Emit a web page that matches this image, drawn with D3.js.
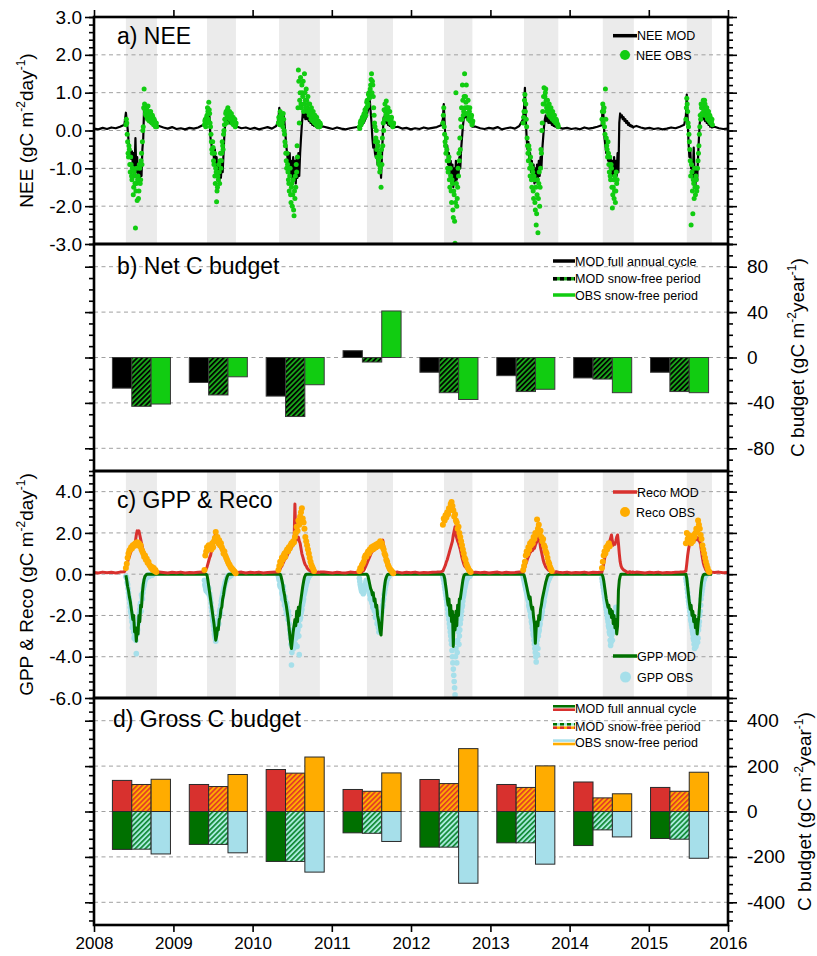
<!DOCTYPE html>
<html>
<head>
<meta charset="utf-8">
<script src="https://cdn.jsdelivr.net/npm/d3@7/dist/d3.min.js"></script>
<style>
  html, body { margin: 0; padding: 0; background: #fff; }
  svg text { font-family: "Liberation Sans", Arial, Helvetica, sans-serif; }
</style>
</head>
<body>
<svg id="chart" width="817" height="956"></svg>
<script>
// ---------------- data ----------------
const years = [2008, 2009, 2010, 2011, 2012, 2013, 2014, 2015];

// snow-free period (grey band), day of year
const bandStart = [148, 156, 123, 163, 153, 156, 154, 176];
const bandEnd   = [291, 289, 311, 283, 284, 314, 297, 292];

// growing-season daily series, sampled every seasonStep days from seasonStart
// (the *Mid arrays hold the days half-way between those samples)
const seasonStart = [148, 144, 120, 128, 148, 152, 150, 172];
const seasonStep = 4;

const neeMod = [
  [0.47,0.25,0.05,-0.25,-0.45,-0.6,-0.75,-0.55,-0.9,-0.6,-1.0,-0.2,-1.1,-0.7,-1.35,-0.9,-1.3,-0.8,-1.2,-0.5,-0.2,0.63,0.35,0.45,0.3,0.4,0.25,0.35,0.2,0.3,0.2,0.25,0.15,0.2,0.1,0.12],
  [0.15,0.25,0.35,0.45,0.55,0.6,0.3,-0.2,-0.35,-0.55,-0.5,-0.75,-0.5,-1.0,-0.7,-1.2,-0.9,-1.35,-1.0,-1.25,-0.8,-1.1,-0.6,-0.1,0.2,0.35,0.25,0.3,0.2,0.28,0.18,0.25,0.15,0.2,0.12,0.15,0.1],
  [0.3,0.6,0.45,0.3,0.45,0.25,0.4,0.2,-0.1,-0.4,-0.6,-0.85,-1.0,-0.6,-1.2,-0.8,-1.35,-0.7,-1.3,-0.8,-1.4,-0.7,-1.25,-0.6,-1.2,-0.6,-0.2,0.15,0.45,0.35,0.5,0.3,0.6,0.3,0.35,0.25,0.3,0.2,0.25,0.15,0.2,0.12,0.18,0.1,0.15,0.08,0.12,0.06,0.1],
  [0.08,0.12,0.1,0.15,0.18,0.2,0.25,0.3,0.35,0.45,0.55,0.65,0.8,0.5,0.2,-0.2,-0.45,-0.3,-0.6,-0.7,-0.5,-0.9,-0.75,-1.0,-0.85,-1.25,-0.7,-0.1,0.35,0.25,0.35,0.2,0.3,0.15,0.25,0.12,0.2,0.1,0.12,0.08],
  [0.3,0.7,0.2,-0.3,-0.6,-0.4,-0.9,-0.6,-1.2,-0.8,-1.4,-0.9,-1.5,-1.0,-1.4,-0.8,-1.3,-0.9,-1.2,-0.7,-1.0,-0.5,-0.2,0.1,0.3,0.45,0.35,0.45,0.3,0.4,0.25,0.3,0.2,0.15,0.1],
  [0.3,0.6,1.13,0.3,-0.2,-0.5,-0.3,-0.8,-0.6,-1.1,-0.8,-1.3,-0.9,-1.4,-1.0,-1.35,-0.9,-1.3,-0.8,-1.2,-0.7,-1.0,-0.5,-0.2,0.1,0.3,0.4,0.25,0.35,0.2,0.3,0.2,0.25,0.15,0.2,0.12,0.15,0.1,0.12,0.08,0.1],
  [0.25,0.7,0.3,-0.2,-0.4,-0.6,-0.45,-0.8,-0.6,-1.0,-0.7,-1.15,-0.8,-1.2,-0.7,-1.25,-0.8,-1.2,-0.6,-1.1,0.2,0.45,0.35,0.4,0.3,0.35,0.25,0.3,0.2,0.25,0.15,0.2,0.12,0.15,0.1,0.12,0.08,0.1],
  [0.4,0.95,0.3,-0.3,-0.7,-0.5,-1.0,-0.8,-1.3,-0.45,-1.2,-1.45,-1.0,-1.3,-0.7,-0.2,0.2,0.35,0.3,0.4,0.3,0.35,0.25,0.3,0.2,0.25,0.15,0.2,0.1,0.12,0.08]
];

const neeObs = [
  [0.15,0.2,-0.3,-0.7,-0.5,-1.1,-0.9,-1.3,-1.0,-1.5,-1.2,-2.58,-1.4,-1.85,-1.2,-1.6,-1.0,-1.3,-0.6,-0.3,0.1,1.1,0.55,0.4,0.6,0.3,0.5,0.25,0.45,0.3,0.2,0.35,0.15,0.25,0.1,0.2],
  [0.15,0.3,0.2,0.4,0.5,0.75,0.45,0.1,-0.3,-0.6,-0.45,-0.9,-1.2,-1.0,-1.88,-1.5,-1.3,-1.1,-0.8,-1.0,-0.6,-0.4,-0.1,0.15,0.3,0.5,0.35,0.6,0.4,0.5,0.3,0.45,0.25,0.35,0.2,0.3,0.15],
  [0.2,0.3,0.5,0.2,0.4,0.1,0.3,-0.1,-0.4,-0.8,-0.6,-1.1,-1.4,-1.2,-1.7,-1.5,-2.0,-1.3,-2.25,-1.8,-1.5,-1.1,-0.7,1.6,0.2,1.0,0.7,1.2,0.9,0.5,1.5,0.8,1.1,0.6,0.9,0.5,0.7,0.4,0.6,0.3,0.5,0.25,0.4,0.2,0.35,0.15,0.25,0.1,0.2],
  [0.1,0.2,0.15,0.3,0.25,0.4,0.35,0.5,0.6,0.8,0.7,1.0,0.9,1.2,1.5,1.3,0.9,0.4,0.1,-0.2,-0.5,-0.3,-0.8,-0.6,-1.0,-1.5,-0.9,-0.4,0.0,0.3,0.5,0.78,0.4,0.6,0.3,0.5,0.25,0.35,0.2,0.15],
  [0.2,0.6,-0.1,-0.4,-0.2,-0.8,-1.1,-0.7,-1.5,-1.2,-1.9,-1.4,-2.3,-1.7,-2.98,1.0,-2.0,-1.5,-1.2,-0.8,-0.5,0.1,0.3,0.8,0.5,1.5,0.9,1.2,0.6,0.8,0.4,0.6,0.3,0.4,0.2],
  [0.2,0.5,0.95,0.7,0.1,-0.4,-0.8,-0.5,-1.2,-0.9,-1.5,-1.1,-1.8,-1.3,-2.1,-2.5,-1.7,-2.7,-1.4,-2.0,-1.0,-0.6,0.2,0.7,1.13,0.9,1.1,0.6,0.8,0.5,0.7,0.4,0.6,0.35,0.5,0.3,0.4,0.25,0.3,0.2,0.15],
  [0.3,0.7,0.5,0.1,1.1,-0.2,-0.5,-0.3,-0.9,-0.7,-1.3,-1.0,-2.05,-1.5,-1.8,-1.2,-1.6,-1.4],
  [0.3,0.85,0.5,0.1,-0.3,-0.8,-2.5,-1.1,-2.2,-1.4,-1.0,-1.7,-1.3,-1.5,-0.8,-0.4,0.1,0.3,0.6,0.4,0.8,0.5,0.7,0.4,0.6,0.3,0.5,0.25,0.35,0.2,0.3]
];
const neeObsMid = [
  [0.3,-0.1,-0.6,-0.4,-0.9,-0.7,-1.2,-1.0,-1.7,-1.1,-1.4,-1.6,-1.0,-1.3,-1.8,-0.9,-1.4,-0.8,-0.9,0.0,0.6,0.7,0.45,0.5,0.35,0.65,0.4,0.3,0.5,0.25,0.4,0.2,0.3,0.15,0.2,0.1],
  [0.25,0.1,0.35,0.6,0.3,0.55,0.2,-0.1,-0.5,-0.3,-0.8,-0.6,-1.4,-1.1,-1.6,-1.2,-0.9,-1.4,-0.6,-0.8,-0.3,-0.5,0.0,0.3,0.45,0.2,0.55,0.35,0.45,0.3,0.4,0.2,0.3,0.15,0.25,0.1,0.2],
  [0.35,0.15,0.4,0.3,0.2,0.45,0.0,-0.3,-0.6,-1.0,-0.9,-1.3,-1.6,-1.0,-1.9,-1.4,-1.7,-2.1,-1.6,-1.2,-0.9,-0.4,0.6,1.3,0.8,1.4,0.6,1.0,1.3,0.7,1.0,0.6,0.8,0.5,0.7,0.4,0.55,0.3,0.45,0.25,0.4,0.2,0.3,0.15,0.25,0.1,0.2,0.1,0.15],
  [0.05,0.25,0.2,0.35,0.3,0.45,0.55,0.4,0.75,0.65,0.95,0.85,1.1,1.35,1.0,1.2,0.6,0.2,-0.3,0.0,-0.7,-0.4,-0.9,-1.1,-0.7,-0.5,-0.2,0.2,0.55,0.7,0.4,0.6,0.3,0.5,0.35,0.2,0.3,0.15,0.1,0.2],
  [0.4,0.1,-0.3,-0.6,-0.5,-1.0,-0.8,-1.3,-1.0,-1.6,-1.3,-2.1,-1.6,-2.4,-1.9,-1.4,-1.8,-1.0,-0.6,-0.2,0.3,0.6,1.2,0.4,0.9,0.6,0.75,0.45,0.6,0.3,0.5,0.25,0.35,0.15,0.25],
  [0.35,0.8,0.5,0.3,-0.2,-0.6,-0.4,-1.0,-0.7,-1.3,-1.0,-1.6,-1.2,-1.9,-1.5,-2.2,-1.3,-1.8,-1.1,-1.5,-0.5,0.0,0.5,0.9,0.7,1.0,0.8,0.5,0.65,0.4,0.55,0.35,0.5,0.3,0.4,0.25,0.3,0.2,0.25,0.15,0.1],
  [0.5,0.2,0.6,-0.1,0.3,-0.4,-0.7,-0.6,-1.1,-1.2,-0.9,-1.5,-1.7,-1.3,-1.6,-1.9,-1.1,-1.3],
  [0.6,0.7,0.2,-0.1,-0.5,-1.2,-0.9,-1.6,-1.3,-1.8,-1.5,-1.2,-1.6,-1.0,-0.6,-0.1,0.4,0.7,0.45,0.65,0.55,0.8,0.4,0.6,0.35,0.5,0.3,0.4,0.2,0.25,0.15]
];

const recoMod = [
  [0.25,0.4,0.6,0.75,0.85,1.0,1.1,1.2,1.3,1.35,1.45,1.6,1.9,2.1,2.0,2.1,1.9,1.7,1.5,1.3,1.15,1.05,0.9,0.8,0.7,0.65,0.55,0.5,0.45,0.35,0.3,0.25,0.2,0.15,0.12,0.1],
  [0.1,0.15,0.25,0.35,0.5,0.65,0.8,0.9,1.1,1.25,1.4,1.55,1.8,2.05,1.9,1.75,1.65,1.5,1.4,1.3,1.2,1.1,1.0,0.95,0.9,0.8,0.7,0.6,0.55,0.45,0.4,0.35,0.25,0.2,0.15,0.1,0.08],
  [0.1,0.2,0.25,0.35,0.4,0.5,0.6,0.7,0.75,0.85,0.9,1.0,1.05,1.15,1.2,1.3,1.35,1.45,1.5,3.4,1.6,1.75,1.7,1.8,1.6,1.5,1.25,1.0,0.85,0.7,0.55,0.45,0.4,0.3,0.25,0.2,0.18,0.15,0.12,0.1,0.1,0.08,0.1,0.08,0.1,0.08,0.1,0.08,0.1],
  [0.08,0.1,0.1,0.12,0.15,0.18,0.25,0.35,0.45,0.55,0.65,0.75,0.85,0.95,1.05,1.1,1.2,1.15,1.25,1.3,1.25,1.35,1.4,1.35,1.5,1.45,1.6,1.65,1.4,1.1,0.8,0.6,0.45,0.35,0.25,0.2,0.15,0.12,0.1,0.08],
  [0.15,0.25,0.35,0.45,0.6,0.7,0.85,1.0,1.15,1.3,1.45,1.6,1.9,2.1,2.3,1.9,1.75,1.6,1.5,1.35,1.2,1.0,0.8,0.65,0.5,0.4,0.35,0.3,0.25,0.2,0.18,0.15,0.12,0.1,0.08],
  [0.1,0.2,0.35,0.5,0.6,0.75,0.85,0.95,1.05,1.1,1.2,1.15,1.3,1.25,1.4,1.5,1.6,1.75,1.9,1.6,1.3,1.1,0.9,0.7,0.55,0.45,0.35,0.3,0.25,0.2,0.18,0.15,0.12,0.1,0.12,0.1,0.08,0.1,0.12,0.1,0.1],
  [0.1,0.3,0.5,0.75,0.95,1.1,1.25,1.35,1.5,1.6,1.75,1.9,1.6,1.4,1.5,1.45,1.6,1.8,1.9,1.5,1.0,0.6,0.4,0.3,0.25,0.2,0.18,0.15,0.12,0.1,0.08,0.1,0.12,0.1,0.08,0.1,0.1,0.08],
  [0.15,0.5,0.9,1.2,1.4,1.5,1.6,1.55,1.7,1.6,1.75,1.65,1.8,1.7,1.75,1.6,1.6,1.4,1.1,0.8,0.55,0.4,0.3,0.2,0.15,0.1,0.12,0.1,0.08,0.1,0.1]
];

const recoObs = [
  [0.3,0.5,0.8,1.0,1.15,1.2,1.3,1.25,1.4,1.35,1.45,1.5,1.4,1.55,1.45,1.5,1.35,1.4,1.2,1.1,1.0,0.85,0.9,0.7,0.75,0.55,0.6,0.45,0.4,0.3,0.35,0.2,0.3,0.15,0.2,0.1],
  [0.2,0.9,1.1,1.3,1.2,1.4,1.25,1.35,1.2,1.5,1.3,1.6,1.75,2.05,1.6,1.8,1.5,1.65,1.4,1.5,1.3,1.2,1.0,1.1,0.9,0.8,0.7,0.6,0.5,0.45,0.35,0.3,0.25,0.2,0.15,0.1,0.05],
  [0.2,0.4,0.6,0.5,0.8,0.7,0.9,1.0,0.85,1.1,1.2,1.1,1.3,1.25,1.4,1.5,1.45,1.6,1.55,1.8,2.0,2.3,2.1,2.6,2.4,2.8,3.0,3.2,2.7,2.5,2.2,1.8,1.6,1.4,1.2,1.0,0.8,0.6,0.45,0.35,0.25,0.15],
  [0.15,0.3,0.25,0.45,0.5,0.6,0.8,0.9,0.85,1.0,1.1,1.0,1.2,1.15,1.3,1.2,1.35,1.25,1.4,1.3,1.45,1.35,1.5,1.4,1.6,1.45,1.5,1.3,1.2,1.0,0.9,0.7,0.6,0.45,0.35,0.25,0.2,0.15,0.1,0.05],
  [2.4,2.7,2.6,2.85,2.75,3.0,2.9,3.2,3.1,3.4,3.5,3.3,3.1,2.8,2.9,2.6,2.5,2.2,2.3,2.0,1.8,1.6,1.4,1.2,1.0,0.8,0.7,0.5,0.4,0.3,0.2,0.15,0.1],
  [0.2,0.4,0.6,0.9,1.1,1.0,1.3,1.2,1.5,1.4,1.6,1.5,1.8,1.7,2.0,1.9,2.65,2.2,2.4,2.0,2.1,1.8,1.6,1.7,1.4,1.3,1.1,1.0,0.8,0.6,0.5,0.35,0.25,0.15],
  [0.3,0.6,0.9,1.1,1.0,1.3,1.2,1.4,1.5,1.35],
  [1.5,2.0,1.7,1.9,1.6,1.8,1.5,1.7,1.6,1.9,1.8,2.0,2.2,2.1,2.6,2.4,2.2,1.9,1.7,1.4,1.2,1.0,0.8,0.6,0.45,0.3,0.15,0.1]
];

const gppMod = [
  [-0.05,-0.3,-0.6,-0.8,-1.1,-1.3,-1.6,-1.9,-2.2,-2.0,-2.8,-2.6,-3.25,-2.6,-2.9,-2.0,-2.3,-1.5,-1.6,-0.9,-0.5,-0.25,-0.1,-0.05,0,0,0,0,0,0,0,0,0,0,0,0],
  [0,0,0,-0.05,-0.3,-0.6,-0.9,-1.2,-1.5,-1.8,-2.1,-2.4,-2.8,-3.2,-3.0,-2.6,-2.7,-2.2,-2.1,-1.7,-1.6,-1.2,-1.0,-0.7,-0.5,-0.3,-0.15,-0.05,0,0,0,0,0,0,0,0,0],
  [0,0,0,-0.1,-0.3,-0.5,-0.8,-1.0,-1.3,-1.5,-1.8,-2.1,-2.5,-2.9,-3.3,-3.6,-3.2,-2.8,-2.5,-2.2,-2.5,-1.8,-2.3,-1.6,-2.0,-1.5,-1.2,-0.9,-0.6,-0.35,-0.15,-0.05,0,0,0,0,0,0,0,0,0,0,0,0,0,0,0,0,0],
  [0,0,0,0,0,0,0,0,0,-0.02,-0.1,-0.3,-0.5,-0.7,-0.8,-1.0,-0.9,-1.3,-1.2,-1.6,-1.5,-2.0,-2.2,-2.5,-2.8,-2.95,-2.3,-1.6,-1.0,-0.6,-0.3,-0.15,-0.05,0,0,0,0,0,0,0],
  [0,-0.05,-0.2,-0.5,-0.8,-1.2,-1.5,-1.2,-2.0,-1.5,-2.3,-1.8,-3.5,-2.0,-2.7,-1.8,-2.5,-1.5,-2.0,-1.2,-1.2,-0.9,-0.6,-0.3,-0.1,-0.03,0,0,0,0,0,0,0,0,0],
  [0,-0.05,-0.2,-0.4,-0.6,-0.8,-1.0,-1.2,-1.1,-1.5,-1.7,-1.6,-2.1,-2.4,-3.35,-2.6,-2.3,-2.5,-2.0,-2.2,-1.7,-1.5,-1.2,-1.0,-0.8,-0.6,-0.4,-0.25,-0.1,-0.05,0,0,0,0,0,0,0,0,0,0,0],
  [0,-0.1,-0.3,-0.6,-0.9,-1.2,-1.4,-1.6,-1.5,-1.9,-1.7,-2.1,-1.8,-2.4,-2.0,-2.6,-2.2,-2.9,-2.5,-0.8,-0.3,-0.1,0,0,0,0,0,0,0,0,0,0,0,0,0,0,0,0],
  [0,-0.2,-0.6,-1.0,-1.4,-1.7,-1.5,-2.0,-1.8,-2.3,-2.0,-2.6,-2.2,-2.9,-2.4,-2.0,-1.4,-0.8,-0.4,-0.15,-0.05,0,0,0,0,0,0,0,0,0,0]
];

const gppObs = [
  [-0.1,-0.2,-0.5,-0.9,-1.2,-1.6,-1.9,-2.3,-2.5,-2.8,-3.0,-2.6,-3.85,-2.9,-2.4,-2.1,-1.7,-1.4,-1.0,-1.2,-0.7,-0.5,-0.3,-0.2,-0.1,-0.15,-0.05,-0.1,-0.05,0,-0.05,-0.02],
  [-0.3,-0.6,-0.8,-0.5,-0.9,-0.7,-0.95,-1.2,-1.6,-2.0,-2.3,-2.7,-3.0,-3.25,-2.8,-2.5,-2.2,-2.0,-1.7,-1.5,-1.2,-1.0,-0.8,-0.6,-0.4,-0.3,-0.2,-0.1,-0.05,-0.1,-0.02,-0.05],
  [-0.1,-0.3,-0.6,-0.4,-0.9,-1.2,-0.8,-1.5,-1.3,-1.9,-1.6,-2.2,-2.0,-2.7,-3.1,-4.4,-3.5,-3.0,-3.3,-2.8,-3.1,-2.6,-2.9,-2.4,-3.9,-2.2,-1.9,-1.7,-1.4,-1.2,-0.9,-0.7,-0.5,-0.35,-0.2,-0.1,-0.05,-0.02],
  [-0.2,-0.5,-0.7,-0.85,-0.6,-0.9,-0.75,-0.5,-0.3,-0.4,-0.6,-0.8,-1.0,-1.1,-1.3,-1.2,-1.5,-1.7,-1.6,-2.0,-1.9,-2.3,-2.6,-2.2,-2.5,-2.0,-1.8,-1.5,-1.2,-0.9,-0.6,-0.4,-0.25,-0.15,-0.1,-0.05],
  [-0.1,-0.3,-0.6,-0.9,-1.2,-1.5,-1.9,-2.2,-2.6,-3.0,-3.4,-4.0,-4.6,-5.2,-5.85,-3.6,-4.3,-3.2,-2.8,-3.0,-2.4,-2.0,-1.6,-1.3,-1.0,-0.7,-0.5,-0.3,-0.2,-0.1,-0.05,-0.1,-0.02],
  [-0.1,-0.3,-0.5,-0.7,-0.9,-1.1,-1.3,-1.6,-1.8,-2.1,-2.4,-2.7,-3.0,-3.4,-3.8,-4.25,-3.2,-3.6,-2.8,-2.5,-2.2,-2.0,-1.8,-1.5,-1.3,-1.0,-0.8,-0.6,-0.4,-0.3,-0.2,-0.1,-0.05],
  [-0.2,-0.5,-0.8,-1.1,-1.4,-1.7,-2.0,-2.3,-2.6,-2.9,-3.45,-3.0,-3.2,-2.7,-2.4,-2.0,-1.6],
  [-0.2,-0.5,-0.9,-1.3,-1.6,-2.0,-2.3,-2.6,-2.9,-3.2,-3.6,-3.0,-3.4,-2.8,-3.1,-2.5,-2.0,-1.5,-1.0,-0.7,-0.4,-0.25,-0.1,-0.05]
];
const gppObsMid = [
  [-0.15,-0.4,-0.7,-1.1,-1.4,-1.8,-2.1,-2.6,-2.4,-3.1,-2.7,-3.2,-2.5,-2.7,-2.2,-1.9,-1.5,-1.8,-1.1,-0.9,-0.6,-0.4,-0.25,-0.15,-0.1,-0.05,-0.08,-0.03],
  [-0.5,-0.7,-0.6,-0.85,-0.65,-1.0,-1.1,-1.4,-1.8,-2.2,-2.5,-2.9,-3.1,-2.9,-2.6,-2.3,-2.4,-1.8,-1.9,-1.3,-1.1,-0.9,-0.7,-0.5,-0.35,-0.25,-0.15,-0.08,-0.12,-0.04],
  [-0.2,-0.5,-0.3,-0.7,-1.0,-0.6,-1.3,-1.1,-1.7,-1.4,-2.0,-1.8,-2.4,-2.9,-3.4,-3.8,-3.2,-3.6,-2.6,-3.4,-2.9,-3.5,-2.7,-3.0,-2.5,-2.1,-1.8,-1.5,-1.3,-1.0,-0.8,-0.6,-0.4,-0.25,-0.15,-0.08],
  [-0.35,-0.6,-0.8,-0.7,-0.95,-0.65,-0.55,-0.4,-0.35,-0.5,-0.7,-0.9,-1.2,-1.0,-1.4,-1.6,-1.4,-1.8,-2.1,-1.8,-2.4,-2.0,-2.8,-2.3,-2.2,-1.9,-1.6,-1.3,-1.0,-0.75,-0.5,-0.3,-0.2,-0.1],
  [-0.2,-0.45,-0.75,-1.05,-1.35,-1.7,-2.0,-2.4,-2.8,-3.2,-3.7,-4.3,-4.9,-5.5,-4.0,-3.3,-3.8,-2.6,-3.4,-2.7,-2.2,-1.8,-1.5,-1.1,-0.85,-0.6,-0.4,-0.25,-0.15,-0.08],
  [-0.2,-0.4,-0.6,-0.8,-1.0,-1.2,-1.5,-1.7,-2.0,-2.3,-2.6,-2.9,-3.2,-3.6,-4.0,-3.4,-3.9,-3.0,-2.7,-2.4,-2.1,-1.9,-1.6,-1.4,-1.1,-0.9,-0.7,-0.5,-0.35,-0.25,-0.15,-0.08],
  [-0.35,-0.65,-0.95,-1.25,-1.55,-1.85,-2.15,-2.5,-2.8,-3.2,-3.3,-2.9,-2.8,-2.5,-2.2,-1.8],
  [-0.35,-0.7,-1.1,-1.45,-1.8,-2.2,-2.45,-2.75,-3.1,-3.4,-3.2,-3.5,-2.9,-3.3,-2.7,-2.3,-1.8,-1.2,-0.85,-0.55,-0.3,-0.15,-0.08]
];

// off-season model values every winterStep days from 1 Jan 2008 (null = inside a season)
const winterStep = 20;
const neeModWinter = [
  0.05,0.03,0.07,0.04,0.08,0.06,0.1,0.15,
  null,null,null,null,null,null,null,
  0.12,0.08,0.05,0.09,0.04,0.06,0.03,0.07,0.05,0.08,0.14,
  null,null,null,null,null,null,null,
  0.1,0.06,0.08,0.04,0.07,0.03,0.06,0.09,0.05,0.12,
  null,null,null,null,null,null,null,null,null,null,
  0.1,0.07,0.04,0.08,0.05,0.03,0.06,0.08,0.1,
  null,null,null,null,null,null,null,
  0.08,0.1,0.05,0.07,0.03,0.06,0.04,0.08,0.05,0.07,0.09,0.14,
  null,null,null,null,null,null,null,
  0.1,0.06,0.04,0.07,0.05,0.09,0.03,0.06,0.08,0.05,0.12,
  null,null,null,null,null,null,null,null,
  0.08,0.05,0.07,0.04,0.06,0.03,0.08,0.05,0.07,0.1,0.14,
  null,null,null,null,null,null,null,
  0.12,0.08,0.05,0.07,0.04,0.06,0.03,0.05,0.08,0.06,0.1,0.15,
  null,null,null,null,null,null,
  0.1,0.06,0.04,0.05
];
const recoModWinter = [
  0.08,0.06,0.1,0.07,0.09,0.06,0.1,0.12,
  null,null,null,null,null,null,null,
  0.1,0.08,0.06,0.09,0.07,0.1,0.06,0.08,0.07,0.09,0.1,
  null,null,null,null,null,null,null,
  0.08,0.1,0.06,0.09,0.07,0.1,0.06,0.08,0.09,0.1,
  null,null,null,null,null,null,null,null,null,null,
  0.1,0.08,0.06,0.09,0.07,0.06,0.1,0.08,0.09,
  null,null,null,null,null,null,null,
  0.08,0.1,0.06,0.09,0.07,0.1,0.06,0.08,0.07,0.09,0.1,0.12,
  null,null,null,null,null,null,null,
  0.1,0.07,0.09,0.06,0.08,0.1,0.06,0.09,0.07,0.08,0.1,
  null,null,null,null,null,null,null,null,
  0.09,0.07,0.1,0.06,0.08,0.07,0.1,0.06,0.09,0.08,0.1,
  null,null,null,null,null,null,null,
  0.1,0.08,0.06,0.09,0.07,0.1,0.06,0.08,0.07,0.09,0.1,0.12,
  null,null,null,null,null,null,
  0.08,0.1,0.07,0.08
];

// annual budgets (gC m-2 year-1)
const netFull   = [-27, -22, -34,   6, -13, -16, -18, -13];
const netSfMod  = [-43, -33, -52,  -4, -31, -30, -19, -30];
const netSfObs  = [-41, -17, -24,  41, -37, -28, -31, -31];
const recoFull  = [137, 119, 185,  97, 141, 119, 130, 106];
const recoSfMod = [119, 110, 169,  89, 123, 106,  60,  89];
const recoSfObs = [142, 163, 240, 170, 277, 201,  78, 173];
const gppFull   = [-167, -145, -220,  -94, -157, -138, -150, -119];
const gppSfMod  = [-166, -145, -220,  -96, -157, -138,  -81, -122];
const gppSfObs  = [-187, -182, -267, -132, -316, -232, -112, -206];

// tick values
const ticksA = [-3, -2, -1, 0, 1, 2, 3];
const ticksB = [-80, -40, 0, 40, 80];
const ticksC = [-6, -4, -2, 0, 2, 4];
const ticksD = [-400, -200, 0, 200, 400];

// ---------------- style ----------------
const C = {
  black: "#000000",
  obsGreen: "#11cc11",
  red: "#d8312e",
  orange: "#ffac00",
  dkGreen: "#007000",
  ltBlue: "#a6dfea",
  band: "#ebebeb",
  grid: "#a0a0a0"
};

// ---------------- layout ----------------
const svg = d3.select("#chart");
const plotL = 94, plotR = 728;
const x = d3.scaleTime()
  .domain([new Date(2008, 0, 1), new Date(2016, 0, 1)])
  .range([plotL, plotR]);

const yA = d3.scaleLinear().domain([-3, 3]).range([244, 17]);
const yB = d3.scaleLinear().domain([-100, 100]).range([471, 244]);
const yC = d3.scaleLinear().domain([-6, 5]).range([698, 471]);
const yD = d3.scaleLinear().domain([-500, 500]).range([925, 698]);

const defs = svg.append("defs");

function clipFor(id, y) {
  const [b, t] = y.range();
  defs.append("clipPath").attr("id", id)
    .append("rect").attr("x", plotL).attr("y", t)
    .attr("width", plotR - plotL).attr("height", b - t);
  return svg.append("g").attr("clip-path", `url(#${id})`);
}

function hatch(id, bg, fg, size, lw) {
  const p = defs.append("pattern").attr("id", id)
    .attr("patternUnits", "userSpaceOnUse")
    .attr("width", size).attr("height", size)
    .attr("patternTransform", "rotate(45)");
  p.append("rect").attr("width", size).attr("height", size).attr("fill", bg);
  p.append("rect").attr("width", lw).attr("height", size).attr("fill", fg);
}
hatch("hatchNet", "#1aa41a", "#000", 3.6, 1.7);
hatch("hatchReco", C.orange, "#e0352a", 3.6, 1.6);
hatch("hatchGpp", "#a8eadc", "#118a35", 3.6, 1.7);

const seasonDate = (i, j, off) => new Date(years[i], 0, seasonStart[i] + seasonStep * j + (off || 0));
const winterDate = k => new Date(2008, 0, 1 + winterStep * k);

function modelPoints(seasonVals, winterVals) {
  const pts = [];
  seasonVals.forEach((arr, i) => arr.forEach((v, j) => pts.push({ date: seasonDate(i, j), v })));
  if (winterVals) winterVals.forEach((v, k) => { if (v !== null) pts.push({ date: winterDate(k), v }); });
  return pts.sort((a, b) => a.date - b.date);
}
function obsPoints(seasonVals, midVals) {
  const pts = [];
  seasonVals.forEach((arr, i) => arr.forEach((v, j) => pts.push({ date: seasonDate(i, j), v })));
  if (midVals) midVals.forEach((arr, i) => arr.forEach((v, j) =>
    pts.push({ date: seasonDate(i, j, seasonStep / 2), v })));
  return pts;
}

function bands(g, y) {
  const [b, t] = y.range();
  g.selectAll("rect.band").data(years).join("rect").attr("class", "band")
    .attr("x", (d, i) => x(new Date(d, 0, bandStart[i])))
    .attr("width", (d, i) => x(new Date(d, 0, bandEnd[i])) - x(new Date(d, 0, bandStart[i])))
    .attr("y", t).attr("height", b - t).attr("fill", C.band);
}
function grid(g, y, vals) {
  g.selectAll("line.grid").data(vals).join("line").attr("class", "grid")
    .attr("x1", plotL).attr("x2", plotR)
    .attr("y1", d => y(d)).attr("y2", d => y(d))
    .attr("stroke", C.grid).attr("stroke-width", 1).attr("stroke-dasharray", "4,3.5");
}

function yAxis(y, majors, minors, side, fmt) {
  const axisFn = side === "left" ? d3.axisLeft : d3.axisRight;
  const xPos = side === "left" ? plotL : plotR;
  const gMin = svg.append("g").attr("transform", `translate(${xPos},0)`)
    .call(axisFn(y).tickValues(minors).tickSize(5).tickFormat(""));
  const gMaj = svg.append("g").attr("transform", `translate(${xPos},0)`)
    .call(axisFn(y).tickValues(majors).tickSize(9)
      .tickPadding(side === "left" ? 3 : 10)
      .tickFormat(fmt || ""));
  [gMin, gMaj].forEach(g => {
    g.select(".domain").remove();
    g.attr("font-family", null).attr("font-size", null);
    g.selectAll(".tick line").attr("stroke", "#000").attr("stroke-width", 1.6);
  });
  gMaj.selectAll(".tick text").attr("font-size", 19).attr("fill", "#000");
}
const fmt1 = d => d.toFixed(1);
const fmt0 = d => String(d);

function yTitle(xBase, yMid, main, unit) {
  const t = svg.append("text")
    .attr("transform", `translate(${xBase},${yMid}) rotate(-90)`)
    .attr("text-anchor", "middle").attr("font-size", 19).attr("fill", "#000");
  t.append("tspan").text(main + " (gC m");
  t.append("tspan").attr("font-size", 12).attr("dy", -8).text("-2");
  t.append("tspan").attr("dy", 8).text(unit);
  t.append("tspan").attr("font-size", 12).attr("dy", -8).text("-1");
  t.append("tspan").attr("dy", 8).text(")");
}

function panelTitle(px, py, label) {
  svg.append("text").attr("x", px).attr("y", py)
    .attr("font-size", 23).attr("fill", "#000").text(label);
}

// ---------- panel a: NEE ----------
const gA = clipFor("clipA", yA);
bands(gA, yA);
grid(gA, yA, [-2, -1, 0, 1, 2]);
gA.append("path").datum(modelPoints(neeMod, neeModWinter))
  .attr("fill", "none").attr("stroke", C.black).attr("stroke-width", 2.2)
  .attr("stroke-linejoin", "round")
  .attr("d", d3.line().x(d => x(d.date)).y(d => yA(d.v)));
gA.selectAll("circle.nee").data(obsPoints(neeObs, neeObsMid)).join("circle").attr("class", "nee")
  .attr("cx", d => x(d.date)).attr("cy", d => yA(d.v)).attr("r", 2.5).attr("fill", C.obsGreen);

// ---------- panel b: net C budget ----------
const xb = d3.scaleBand().domain(years).range([plotL + 9, plotR - 10])
  .paddingInner(0.245).paddingOuter(0.1225);
const xs = d3.scaleBand().domain([0, 1, 2]).range([0, xb.bandwidth()]);

const gB = clipFor("clipB", yB);
grid(gB, yB, ticksB);
const netSeries = [
  { vals: netFull, fill: C.black },
  { vals: netSfMod, fill: "url(#hatchNet)" },
  { vals: netSfObs, fill: C.obsGreen }
];
netSeries.forEach((s, si) => {
  gB.selectAll(`rect.net${si}`).data(s.vals).join("rect").attr("class", `net${si}`)
    .attr("x", (d, i) => xb(years[i]) + xs(si))
    .attr("width", xs.bandwidth())
    .attr("y", d => yB(Math.max(0, d)))
    .attr("height", d => Math.abs(yB(d) - yB(0)))
    .attr("fill", s.fill).attr("stroke", "#3a3a3a").attr("stroke-width", 1);
});

// ---------- panel c: GPP & Reco ----------
const gC = clipFor("clipC", yC);
bands(gC, yC);
grid(gC, yC, [-4, -2, 0, 2, 4]);
gC.selectAll("circle.gpp").data(obsPoints(gppObs, gppObsMid)).join("circle").attr("class", "gpp")
  .attr("cx", d => x(d.date)).attr("cy", d => yC(d.v)).attr("r", 2.8).attr("fill", C.ltBlue);
const lineC = d3.line().x(d => x(d.date)).y(d => yC(d.v));
gC.append("path").datum(modelPoints(gppMod, null))
  .attr("fill", "none").attr("stroke", C.dkGreen).attr("stroke-width", 3)
  .attr("stroke-linejoin", "round").attr("d", lineC);
gC.append("path").datum(modelPoints(recoMod, recoModWinter))
  .attr("fill", "none").attr("stroke", C.red).attr("stroke-width", 3)
  .attr("stroke-linejoin", "round").attr("d", lineC);
gC.selectAll("circle.reco").data(obsPoints(recoObs, null)).join("circle").attr("class", "reco")
  .attr("cx", d => x(d.date)).attr("cy", d => yC(d.v)).attr("r", 3).attr("fill", C.orange);

// ---------- panel d: gross C budget ----------
const gD = clipFor("clipD", yD);
grid(gD, yD, ticksD);
const grossSeries = [
  { pos: recoFull, neg: gppFull, fp: C.red, fn: C.dkGreen },
  { pos: recoSfMod, neg: gppSfMod, fp: "url(#hatchReco)", fn: "url(#hatchGpp)" },
  { pos: recoSfObs, neg: gppSfObs, fp: C.orange, fn: C.ltBlue }
];
grossSeries.forEach((s, si) => {
  [["pos", s.pos, s.fp], ["neg", s.neg, s.fn]].forEach(([k, vals, fill]) => {
    gD.selectAll(`rect.g${k}${si}`).data(vals).join("rect").attr("class", `g${k}${si}`)
      .attr("x", (d, i) => xb(years[i]) + xs(si))
      .attr("width", xs.bandwidth())
      .attr("y", d => yD(Math.max(0, d)))
      .attr("height", d => Math.abs(yD(d) - yD(0)))
      .attr("fill", fill).attr("stroke", "#2a2a2a").attr("stroke-width", 1);
  });
});

// ---------- frames ----------
[yA, yB, yC, yD].forEach(y => {
  const [b, t] = y.range();
  svg.append("rect").attr("x", plotL).attr("y", t)
    .attr("width", plotR - plotL).attr("height", b - t)
    .attr("fill", "none").attr("stroke", "#000").attr("stroke-width", 2.6);
});

// ---------- axes ----------
yAxis(yA, ticksA, d3.range(-3, 3.001, 0.2), "left", fmt1);
yAxis(yA, ticksA, d3.range(-3, 3.001, 0.2), "right", null);
yAxis(yB, ticksB, d3.range(-100, 100.1, 10), "left", null);
yAxis(yB, ticksB, d3.range(-100, 100.1, 10), "right", fmt0);
yAxis(yC, ticksC, d3.range(-6, 5.001, 0.4), "left", fmt1);
yAxis(yC, ticksC, d3.range(-6, 5.001, 0.4), "right", null);
yAxis(yD, ticksD, d3.range(-480, 480.1, 40), "left", null);
yAxis(yD, ticksD, d3.range(-480, 480.1, 40), "right", fmt0);

const xTop = svg.append("g").attr("transform", `translate(0,${yA.range()[1]})`)
  .call(d3.axisTop(x).ticks(d3.timeYear.every(1)).tickSize(7).tickFormat(""));
const xBot = svg.append("g").attr("transform", `translate(0,${yD.range()[0]})`)
  .call(d3.axisBottom(x).ticks(d3.timeYear.every(1)).tickSize(7).tickPadding(5)
    .tickFormat(d3.timeFormat("%Y")));
[xTop, xBot].forEach(g => {
  g.select(".domain").remove();
  g.attr("font-family", null).attr("font-size", null);
  g.selectAll(".tick line").attr("stroke", "#000").attr("stroke-width", 1.6);
});
xBot.selectAll(".tick text").attr("font-size", 17).attr("fill", "#000");

// ---------- titles ----------
yTitle(33, (yA.range()[0] + yA.range()[1]) / 2, "NEE", "day");
yTitle(33, (yC.range()[0] + yC.range()[1]) / 2, "GPP & Reco", "day");
yTitle(804, (yB.range()[0] + yB.range()[1]) / 2, "C budget", "year");
yTitle(811, (yD.range()[0] + yD.range()[1]) / 2, "C budget", "year");

panelTitle(117, 44, "a) NEE");
panelTitle(117, 274, "b) Net C budget");
panelTitle(117, 508, "c) GPP & Reco");
panelTitle(113, 727, "d) Gross C budget");

// ---------- legends ----------
function legText(px, py, s) {
  svg.append("text").attr("x", px).attr("y", py + 4.5)
    .attr("font-size", 12.5).attr("fill", "#000").text(s);
}
function legLine(x1, x2, y, color, w, dash) {
  const l = svg.append("line").attr("x1", x1).attr("x2", x2).attr("y1", y).attr("y2", y)
    .attr("stroke", color).attr("stroke-width", w);
  if (dash) l.attr("stroke-dasharray", dash);
}
// a
legLine(613, 637, 35.7, C.black, 3.5);
legText(637, 35.7, "NEE MOD");
svg.append("circle").attr("cx", 625).attr("cy", 55).attr("r", 5).attr("fill", C.obsGreen);
legText(636, 55, "NEE OBS");
// b
legLine(553, 575, 261, C.black, 3.5);
legText(575, 261, "MOD full annual cycle");
legLine(553, 575, 278.7, "#1aa41a", 3.5);
legLine(553, 575, 278.7, C.black, 3.5, "4,3");
legText(575, 278.7, "MOD snow-free period");
legLine(553, 575, 295, C.obsGreen, 3.5);
legText(575, 295, "OBS snow-free period");
// c
legLine(613, 637, 492, C.red, 3.5);
legText(637, 492, "Reco MOD");
svg.append("circle").attr("cx", 625).attr("cy", 512).attr("r", 5).attr("fill", C.orange);
legText(636, 512, "Reco OBS");
legLine(613, 637, 656, C.dkGreen, 3.5);
legText(637, 656, "GPP MOD");
svg.append("circle").attr("cx", 625.5).attr("cy", 677).attr("r", 5.5).attr("fill", C.ltBlue);
legText(637, 677, "GPP OBS");
// d
legLine(553, 575, 706.3, C.dkGreen, 2.6);
legLine(553, 575, 709.7, C.red, 2.6);
legText(575, 708, "MOD full annual cycle");
legLine(553, 575, 724.3, "#a8eadc", 2.6);
legLine(553, 575, 724.3, C.dkGreen, 2.6, "4,3");
legLine(553, 575, 727.7, C.orange, 2.6);
legLine(553, 575, 727.7, C.red, 2.6, "4,3");
legText(575, 726, "MOD snow-free period");
legLine(553, 575, 740.6, C.ltBlue, 2.6);
legLine(553, 575, 744, C.orange, 2.6);
legText(575, 742.3, "OBS snow-free period");
</script>
</body>
</html>
